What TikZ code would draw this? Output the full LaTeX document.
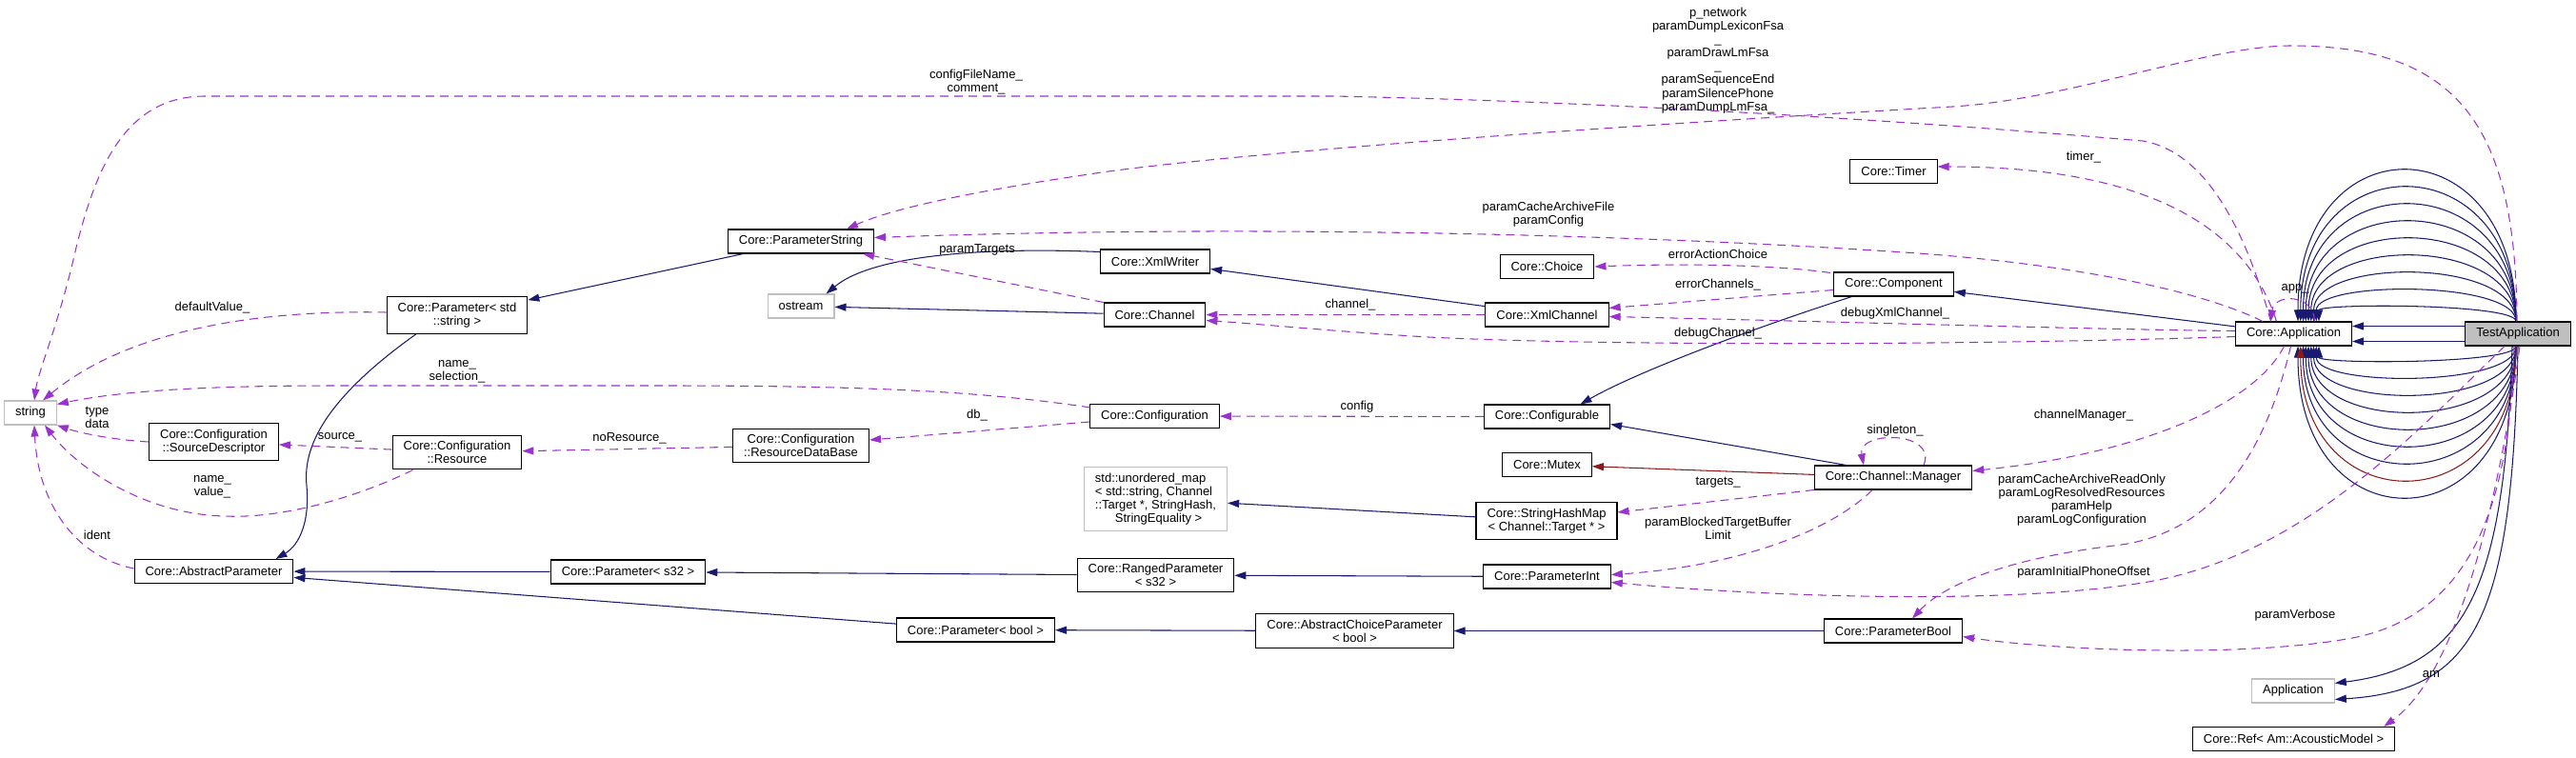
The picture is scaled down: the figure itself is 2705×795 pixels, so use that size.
\documentclass[tikz,border=0pt]{standalone}
\usepackage{fontspec}
\setmainfont{Liberation Sans}
\usetikzlibrary{arrows.meta,calc}
\definecolor{navyedge}{HTML}{191970}
\definecolor{orchidedge}{HTML}{9A32CD}
\definecolor{rededge}{HTML}{8B1A1A}
\definecolor{extline}{HTML}{BFBFBF}
\newcommand{\dgfont}{\fontsize{7.4pt}{8pt}\selectfont}
\tikzset{
  >={Triangle[length=0.24cm,width=0.16cm]},
  cls/.style={rectangle,draw=black,line width=0.6pt,fill=white,font=\dgfont,
              align=center,inner xsep=0.23cm,inner ysep=3.5pt,minimum height=0.5cm},
  ext/.style={cls,draw=extline},
  focus/.style={cls,fill=extline},
  inh/.style={->,navyedge,line width=0.6pt},
  priv/.style={->,rededge,line width=0.6pt},
  usg/.style={->,orchidedge,line width=0.6pt,dash pattern=on 0.18cm off 0.12cm},
  lbl/.style={font=\dgfont,align=center,inner sep=0pt,text=black},
}

\begin{document}
\begin{tikzpicture}[x=0.02cm,y=-0.02cm]
    \path[use as bounding box,fill=white] (0,0) rectangle (2705,795);

    \node[ext]   (STR)     at (32,433.5)     {string};
    \node[cls]   (PSTR)    at (480,331)      {Core::Parameter< std\\::string >};
    \node[cls]   (SRCD)    at (224.5,464)    {Core::Configuration\\::SourceDescriptor};
    \node[cls]   (RES)     at (480,475)      {Core::Configuration\\::Resource};
    \node[cls]   (ABSP)    at (224.5,600)    {Core::AbstractParameter};
    \node[cls]   (PS32)    at (659.5,600.5)  {Core::Parameter< s32 >};
    \node[cls]   (PSTRING) at (841,253.5)    {Core::ParameterString};
    \node[ext]   (OSTR)    at (841,321.5)    {ostream};
    \node[cls]   (XMLW)    at (1213,274.5)   {Core::XmlWriter};
    \node[cls]   (CHAN)    at (1212.5,330.5) {Core::Channel};
    \node[cls]   (CONF)    at (1212.5,437)   {Core::Configuration};
    \node[cls]   (RDB)     at (841,468)      {Core::Configuration\\::ResourceDataBase};
    \node[ext,align=left] (UMAP) at (1213.5,524)
      {std::unordered\_map\\< std::string, Channel\\::Target *, StringHash,\\\hspace*{0.42cm}StringEquality >};
    \node[cls]   (RNG)     at (1213.5,604)   {Core::RangedParameter\\< s32 >};
    \node[cls]   (PBOOL)   at (1024.5,661.5) {Core::Parameter< bool >};
    \node[cls]   (ACP)     at (1422.5,662.5) {Core::AbstractChoiceParameter\\< bool >};
    \node[cls]   (TIMER)   at (1988.5,180)   {Core::Timer};
    \node[cls]   (CHOICE)  at (1624.5,280)   {Core::Choice};
    \node[cls]   (COMP)    at (1988.5,298.5) {Core::Component};
    \node[cls]   (XMLC)    at (1624.5,330.5) {Core::XmlChannel};
    \node[cls]   (CFGB)    at (1624.5,437.5) {Core::Configurable};
    \node[cls]   (MUTEX)   at (1624.5,488)   {Core::Mutex};
    \node[cls]   (MGR)     at (1988,501.5)   {Core::Channel::Manager};
    \node[cls]   (SHM)     at (1624,547)     {Core::StringHashMap\\< Channel::Target * >};
    \node[cls]   (PINT)    at (1624.5,605.5) {Core::ParameterInt};
    \node[cls]   (PBOOLP)  at (1988,662.5)   {Core::ParameterBool};
    \node[cls]   (APP)     at (2408.5,350.5) {Core::Application};
    \node[focus] (TA)      at (2644,350.5)   {TestApplication};
    \node[ext]   (EXTAPP)  at (2408,725.5)   {Application};
    \node[cls]   (REF)     at (2408.5,776)   {Core::Ref< Am::AcousticModel >};

    % inheritance
    \draw[inh] (PSTRING) -- (PSTR);
    \draw[inh] ($(PSTR.south)+(-43,0)$) .. controls (340,420) and (318,470) .. (322,510)
               .. controls (326,555) and (310,575) .. ($(ABSP.north)+(65,0)$);
    \draw[inh] (PS32) -- (ABSP);
    \draw[inh] (PBOOL) -- (ABSP);
    \draw[inh] (RNG) -- (PS32);
    \draw[inh] (PINT) -- (RNG);
    \draw[inh] (ACP) -- (PBOOL);
    \draw[inh] (PBOOLP) -- (ACP);
    \draw[inh] ($(XMLW.west)+(0,-10)$) .. controls (1050,260) and (920,265) .. ($(OSTR.north east)+(-9,0)$);
    \draw[inh] (CHAN) -- (OSTR);
    \draw[inh] (XMLC) -- (XMLW);
    \draw[inh] ($(COMP.south)+(-44,0)$) .. controls (1840,345) and (1720,390) .. ($(CFGB.north)+(35,0)$);
    \draw[inh] (APP) -- (COMP);
    \draw[inh] ($(MGR.north west)+(34,0)$) -- ($(CFGB.east)+(0,8)$);
    \draw[priv] (MGR) -- (MUTEX);
    \draw[inh] (SHM) -- (UMAP);
    \foreach \k in {0,...,8}
      \draw[inh] ($(TA.north)+(-2,0)$) .. controls +(0,{-19-24*\k}) and +(0,{-19-24*\k}) .. ($(APP.north)+({26.5-2.75*\k},0)$);
    \foreach \k in {0,1,2,3,4,5,6,8}
      \draw[inh] ($(TA.south)+(-2,0)$) .. controls +(0,{19+24*\k}) and +(0,{19+24*\k}) .. ($(APP.south)+({26.5-2.75*\k},0)$);
    \draw[priv] ($(TA.south)+(-2,0)$) .. controls +(0,187) and +(0,187) .. ($(APP.south)+(7.25,0)$);
    \draw[inh] ($(TA.west)+(0,-8)$) -- ($(APP.east)+(0,-8)$);
    \draw[inh] ($(TA.west)+(0,8)$) -- ($(APP.east)+(0,8)$);
    \draw[inh] ($(TA.south)+(-6,0)$) .. controls (2630,620) and (2590,700) .. ($(EXTAPP.east)+(0,-8)$);
    \draw[inh] (TA.south) .. controls (2638,650) and (2600,725) .. ($(EXTAPP.east)+(0,9)$);

    % usage
    \draw[usg] ($(APP.north)+(-24,0)$) .. controls (2360,250) and (2320,160) .. (2250,148)
               .. controls (2100,135) and (1750,108) .. (1400,101) -- (215,101)
               .. controls (130,101) and (100,180) .. (80,260)
               .. controls (62,340) and (40,390) .. ($(STR.north)+(4,0)$)
               node[lbl] at (1025,86) {configFileName\_\\comment\_};
    \draw[usg] ($(TA.north)+(-1,0)$) .. controls (2642,130) and (2580,48) .. (2405,48)
               .. controls (2320,48) and (2170,105) .. (2050,112)
               .. controls (1700,132) and (1300,160) .. (1150,182)
               .. controls (1000,204) and (930,222) .. ($(PSTRING.north)+(48,0)$)
               node[lbl] at (1804,63.5) {p\_network\\paramDumpLexiconFsa\\\_\\paramDrawLmFsa\\\_\\paramSequenceEnd\\paramSilencePhone\\paramDumpLmFsa\_};
    \draw[usg] ($(APP.north west)+(29,0)$) .. controls (2300,300) and (2150,275) .. (2000,265)
               .. controls (1700,245) and (1300,236) .. ($(PSTRING.east)+(0,-4)$)
               node[lbl] at (1626,225) {paramCacheArchiveFile\\paramConfig};
    \draw[usg] (CHAN.north west) -- ($(PSTRING.south east)+(-12,0)$) node[lbl] at (1026,262) {paramTargets};
    \draw[usg] (XMLC.west) -- (CHAN.east) node[lbl] at (1418,320) {channel\_};
    \draw[usg] ($(APP.west)+(0,-3)$) .. controls (2200,346) and (1900,337) .. ($(XMLC.east)+(0,2)$)
               node[lbl] at (1990,329) {debugXmlChannel\_};
    \draw[usg] ($(COMP.west)+(0,6)$) -- ($(XMLC.east)+(0,-7)$) node[lbl] at (1804,299) {errorChannels\_};
    \draw[usg] ($(COMP.north west)+(-3,1)$) .. controls (1870,279) and (1780,276) .. (CHOICE.east)
               node[lbl] at (1804,267) {errorActionChoice};
    \draw[usg] ($(APP.west)+(0,3)$) .. controls (2100,362) and (1700,364) .. (1500,354)
               .. controls (1400,348) and (1320,340) .. ($(CHAN.east)+(0,6)$)
               node[lbl] at (1804,350) {debugChannel\_};
    \draw[usg] (CFGB) -- (CONF) node[lbl] at (1425,427) {config};
    \draw[usg] ($(CONF.west)+(0,6)$) -- ($(RDB.east)+(0,-6)$) node[lbl] at (1026,436) {db\_};
    \draw[usg] ($(CONF.north west)+(1,4)$) .. controls (1050,414) and (950,405) .. (700,405) -- (350,405)
               .. controls (200,405) and (120,412) .. ($(STR.east)+(0,-9)$)
               node[lbl] at (480,390) {name\_\\selection\_};
    \draw[usg] (RDB) -- (RES) node[lbl] at (661,460) {noResource\_};
    \draw[usg] (RES) -- (SRCD) node[lbl] at (357,459) {source\_};
    \draw[usg] (SRCD.west) .. controls (120,462) and (85,455) .. (STR.south east) node[lbl] at (102,438) {type\\data};
    \draw[usg] ($(RES.south west)+(22,0)$) .. controls (380,520) and (300,545) .. (236,542)
               .. controls (150,540) and (80,490) .. ($(STR.south)+(15,0)$)
               node[lbl] at (223,511) {name\_\\value\_};
    \draw[usg] ($(PSTR.west)+(0,-3)$) .. controls (260,325) and (130,350) .. ($(STR.north)+(13,0)$)
               node[lbl] at (223,323) {defaultValue\_};
    \draw[usg] ($(ABSP.west)+(0,-3)$) .. controls (80,585) and (40,530) .. ($(STR.south)+(4,0)$)
               node[lbl] at (102,562) {ident};
    \draw[usg] ($(MGR.north)+(32,0)$) .. controls (2035,452) and (1950,452) .. ($(MGR.north)+(-31,0)$)
               node[lbl] at (1990,452) {singleton\_};
    \draw[usg] (MGR.south west) -- ($(SHM.east)+(0,-9)$) node[lbl] at (1804,507) {targets\_};
    \draw[usg] ($(MGR.south)+(-22,0)$) .. controls (1920,560) and (1820,595) .. ($(PINT.east)+(0,-2)$)
               node[lbl] at (1804,555) {paramBlockedTargetBuffer\\Limit};
    \draw[usg] ($(APP.south)+(-10,0)$) .. controls (2370,420) and (2260,475) .. ($(MGR.east)+(0,-7)$)
               node[lbl] at (2188,436) {channelManager\_};
    \draw[usg] ($(APP.south)+(-3,0)$) .. controls (2385,450) and (2340,560) .. (2220,573)
               .. controls (2120,585) and (2045,610) .. ($(PBOOLP.north)+(20,0)$)
               node[lbl] at (2186,525) {paramCacheArchiveReadOnly\\paramLogResolvedResources\\paramHelp\\paramLogConfiguration};
    \draw[usg] ($(TA.south)+(-14,0)$) .. controls (2540,450) and (2420,585) .. (2250,612)
               .. controls (2100,636) and (1850,626) .. ($(PINT.east)+(0,6)$)
               node[lbl] at (2188,601) {paramInitialPhoneOffset};
    \draw[usg] ($(TA.south)+(-4,0)$) .. controls (2636,520) and (2600,645) .. (2470,670)
               .. controls (2350,692) and (2150,682) .. ($(PBOOLP.east)+(0,6)$)
               node[lbl] at (2410,646) {paramVerbose};
    \draw[usg] ($(TA.south)+(2,0)$) .. controls (2630,480) and (2590,700) .. ($(REF.north east)+(-12,0)$)
               node[lbl] at (2553,708) {am};
    \draw[usg] ($(APP.north)+(-18,0)$) .. controls (2350,210) and (2200,175) .. ($(TIMER.east)+(0,-5)$)
               node[lbl] at (2188,165) {timer\_};
    \draw[usg] ($(APP.north)+(22,0)$) .. controls (2430,308) and (2388,308) .. ($(APP.north)+(-24,0)$)
               node[lbl] at (2410,303) {app\_};
\end{tikzpicture}
\end{document}
